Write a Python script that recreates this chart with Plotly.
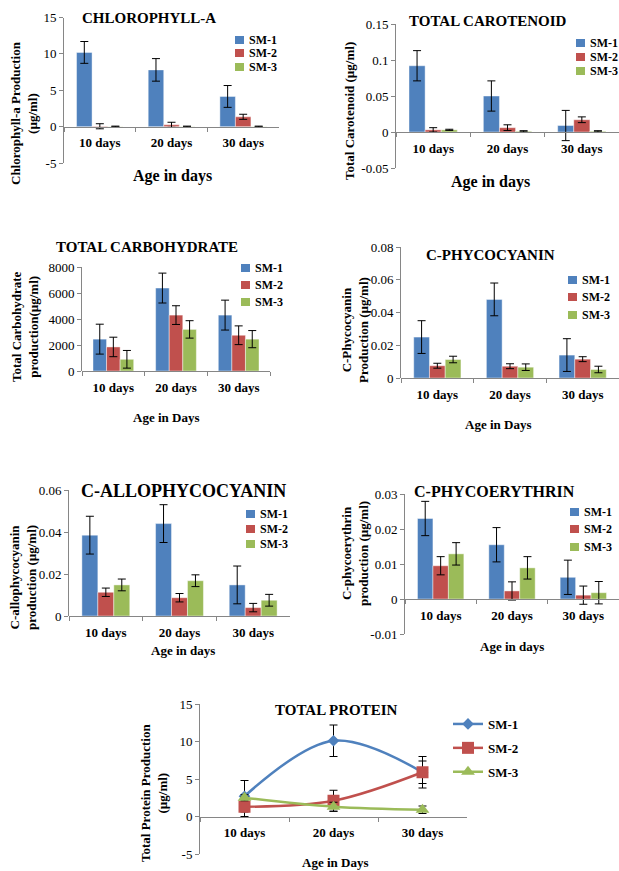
import plotly.graph_objects as go

# ---------------- DATA ----------------
CATEGORIES = ["10 days", "20 days", "30 days"]
SERIES = ["SM-1", "SM-2", "SM-3"]
COLORS = ["#4F81BD", "#C0504D", "#9BBB59"]

chl_mean = [[10.2, 7.8, 4.15], [0.05, 0.25, 1.35], [0.02, 0.02, 0.02]]
chl_err = [[1.5, 1.55, 1.5], [0.35, 0.35, 0.35], [0.05, 0.05, 0.05]]

car_mean = [[0.092, 0.050, 0.009], [0.003, 0.006, 0.017], [0.003, 0.001, 0.001]]
car_err = [[0.021, 0.021, 0.021], [0.003, 0.004, 0.004], [0.0008, 0.0008, 0.0008]]

cho_mean = [[2450, 6380, 4300], [1850, 4300, 2750], [900, 3200, 2450]]
cho_err = [[1150, 1150, 1150], [750, 720, 720], [680, 670, 660]]

pc_mean = [[0.025, 0.048, 0.014], [0.0075, 0.0072, 0.0115], [0.0113, 0.0066, 0.0052]]
pc_err = [[0.010, 0.010, 0.010], [0.0015, 0.0015, 0.0015], [0.002, 0.002, 0.002]]

apc_mean = [[0.0385, 0.044, 0.0148], [0.0113, 0.0087, 0.0040], [0.0148, 0.0168, 0.0075]]
apc_err = [[0.009, 0.009, 0.009], [0.002, 0.002, 0.002], [0.0028, 0.0028, 0.0028]]

pe_mean = [[0.023, 0.0155, 0.0062], [0.0095, 0.0023, 0.0011], [0.0129, 0.0089, 0.0018]]
pe_err = [[0.0049, 0.0049, 0.0049], [0.0026, 0.0026, 0.0026], [0.0032, 0.0032, 0.0032]]

prot_mean = [[2.7, 10.1, 5.9], [1.3, 2.1, 5.9], [2.5, 1.3, 0.9]]
prot_err = [[2.1, 2.1, 2.1], [1.3, 1.4, 1.5], [0.4, 0.6, 0.5]]

# ---------------- LAYOUT HELPERS ----------------
W, H = 619, 871
FONT = "Liberation Serif"
AX = "#868686"


def fx(x):
    return max(0.0, min(1.0, x / W))


def fy(y):
    return max(0.0, min(1.0, 1 - y / H))


panels = [
    dict(mean=chl_mean, err=chl_err, x0=64, x1=279, ytop=17.5, ybot=163, rng=(-5, 15), dt=5,
         title="CHLOROPHYLL-A", tsize=15, tx=149, ty=18.5,
         ytitle="Chlorophyll-a Production<br>(µg/ml)", ytx=24, yty=113,
         xtitle="Age in days", xts=16, xtx=172, xty=176,
         leg=(235, 247, [40, 53, 67])),
    dict(mean=car_mean, err=car_err, x0=396, x1=619, ytop=24, ybot=168, rng=(-0.05, 0.15), dt=0.05,
         title="TOTAL CAROTENOID", tsize=15, tx=488, ty=21,
         ytitle="Total Carotenoid (µg/ml)", ytx=350, yty=111,
         xtitle="Age in days", xts=16, xtx=490, xty=182,
         leg=(576, 588, [43, 57, 71])),
    dict(mean=cho_mean, err=cho_err, x0=82, x1=270, ytop=267, ybot=371, rng=(0, 8000), dt=2000,
         title="TOTAL CARBOHYDRATE", tsize=15, tx=147, ty=247,
         ytitle="Total Carbohydrate<br>production(µg/ml)", ytx=25, yty=327,
         xtitle="Age in Days", xts=13, xtx=166, xty=417,
         leg=(241, 253, [268, 285, 302])),
    dict(mean=pc_mean, err=pc_err, x0=401, x1=619, ytop=247, ybot=378, rng=(0, 0.08), dt=0.02,
         title="C-PHYCOCYANIN", tsize=15, tx=490, ty=255,
         ytitle="C-Phycocyanin<br>Production (µg/ml)", ytx=355, yty=330,
         xtitle="Age in Days", xts=13, xtx=498, xty=425,
         leg=(568, 580, [280, 297, 315])),
    dict(mean=apc_mean, err=apc_err, x0=69, x1=290, ytop=490, ybot=616, rng=(0, 0.06), dt=0.02,
         title="C-ALLOPHYCOCYANIN", tsize=18, tx=183, ty=491,
         ytitle="C-allophycocyanin<br>production (µg/ml)", ytx=23, yty=578,
         xtitle="Age in days", xts=13, xtx=183, xty=650,
         leg=(246, 258, [514, 529, 544])),
    dict(mean=pe_mean, err=pe_err, x0=405, x1=619, ytop=494, ybot=634, rng=(-0.01, 0.03), dt=0.01,
         title="C-PHYCOERYTHRIN", tsize=16, tx=494, ty=491,
         ytitle="C-phycoerythrin<br>production (µg/ml)", ytx=355, yty=554,
         xtitle="Age in days", xts=13, xtx=512, xty=646,
         leg=(570, 582, [512, 529, 547])),
    dict(mean=prot_mean, err=prot_err, x0=200, x1=467, ytop=704, ybot=854, rng=(-5, 15), dt=5,
         title="TOTAL PROTEIN", tsize=15, tx=336, ty=710,
         ytitle="Total Protein Production<br>(µg/ml)", ytx=154, yty=793,
         xtitle="Age in Days", xts=13, xtx=335, xty=862,
         leg=None, line=True),
]

fig = go.Figure()
annotations = []
shapes = []
layout_axes = {}


def ann(text, x, y, size, angle=0, xanchor="center"):
    return dict(text=text, x=fx(x), y=fy(y), xref="paper", yref="paper", showarrow=False,
                xanchor=xanchor, yanchor="middle", textangle=angle,
                font=dict(family=FONT, size=size, color="black"))


for i, p in enumerate(panels):
    n = i + 1
    xa = "x" if n == 1 else f"x{n}"
    ya = "y" if n == 1 else f"y{n}"
    xkey = "xaxis" if n == 1 else f"xaxis{n}"
    ykey = "yaxis" if n == 1 else f"yaxis{n}"
    lo, hi = p["rng"]

    is_line = p.get("line", False)
    markers = ["diamond", "square", "triangle-up"]
    msizes = [9, 12, 12]
    for s in range(3):
        if is_line:
            fig.add_trace(go.Scatter(
                x=CATEGORIES, y=p["mean"][s], name=SERIES[s], xaxis=xa, yaxis=ya,
                mode="lines+markers", line=dict(color=COLORS[s], width=2.5, shape="spline"),
                marker=dict(symbol=markers[s], size=msizes[s], color=COLORS[s]),
                error_y=dict(type="data", array=p["err"][s], color="black", thickness=1, width=4),
                showlegend=True, legendgroup=SERIES[s]))
        else:
            fig.add_trace(go.Bar(
                x=CATEGORIES, y=p["mean"][s], name=SERIES[s], xaxis=xa, yaxis=ya,
                marker=dict(color=COLORS[s], line=dict(color="rgba(255,255,255,0.55)", width=0.8)),
                error_y=dict(type="data", array=p["err"][s], color="black", thickness=1, width=4),
                showlegend=False))

    nt = int(round((hi - lo) / p["dt"]))
    tv = [round(lo + k * p["dt"], 6) for k in range(nt + 1)]
    tt = [f"{v:g}" for v in tv]

    zero_px = p["ybot"] - (0 - lo) / (hi - lo) * (p["ybot"] - p["ytop"])

    layout_axes[xkey] = dict(
        domain=[fx(p["x0"]), fx(p["x1"])], type="category", range=[-0.5, 2.5],
        anchor="free", position=fy(zero_px), automargin=False, ticklabelstandoff=4,
        showline=True, linecolor=AX, linewidth=1, ticks="outside", tickson="boundaries",
        ticklen=4, tickcolor=AX, showgrid=False, zeroline=False,
        tickfont=dict(family=FONT, size=13, color="black", weight="bold"), fixedrange=True)
    layout_axes[ykey] = dict(
        domain=[fy(p["ybot"]), fy(p["ytop"])], range=[lo, hi], anchor=xa, automargin=False,
        tickvals=tv, ticktext=tt, showline=True, linecolor=AX, linewidth=1,
        ticks="outside", ticklen=4, tickcolor=AX, showgrid=False, zeroline=False,
        tickfont=dict(family=FONT, size=13, color="black"), fixedrange=True)

    annotations.append(ann(f"<b>{p['title']}</b>", p["tx"], p["ty"], p["tsize"]))
    annotations.append(ann(f"<b>{p['ytitle']}</b>", p["ytx"], p["yty"], 13, angle=-90))
    annotations.append(ann(f"<b>{p['xtitle']}</b>", p["xtx"], p["xty"], p["xts"]))

    if p["leg"]:
        sx, tx, rows = p["leg"]
        for s in range(3):
            ry = rows[s]
            shapes.append(dict(type="rect", xref="paper", yref="paper",
                               x0=fx(sx), x1=fx(sx + 9), y0=fy(ry + 4), y1=fy(ry - 4),
                               fillcolor=COLORS[s], line=dict(width=0)))
            annotations.append(ann(f"<b>{SERIES[s]}</b>", tx, ry, 12, xanchor="left"))

fig.update_layout(
    width=W, height=H, autosize=False,
    margin=dict(l=0, r=0, t=0, b=0, autoexpand=False),
    paper_bgcolor="white", plot_bgcolor="white",
    barmode="group", bargap=0.35, bargroupgap=0,
    annotations=annotations, shapes=shapes,
    legend=dict(x=fx(448), y=fy(709), xanchor="left", yanchor="top",
                font=dict(family=FONT, size=13, color="black", weight="bold"),
                bgcolor="rgba(0,0,0,0)", tracegroupgap=4, itemwidth=30),
    **layout_axes,
)

fig.write_html(
    "out.html",
    config={"displayModeBar": False, "staticPlot": True},
    post_script=(
        "document.body.style.margin='0';"
        "document.body.style.overflow='hidden';"
        "document.documentElement.style.overflow='hidden';"
    ),
)
